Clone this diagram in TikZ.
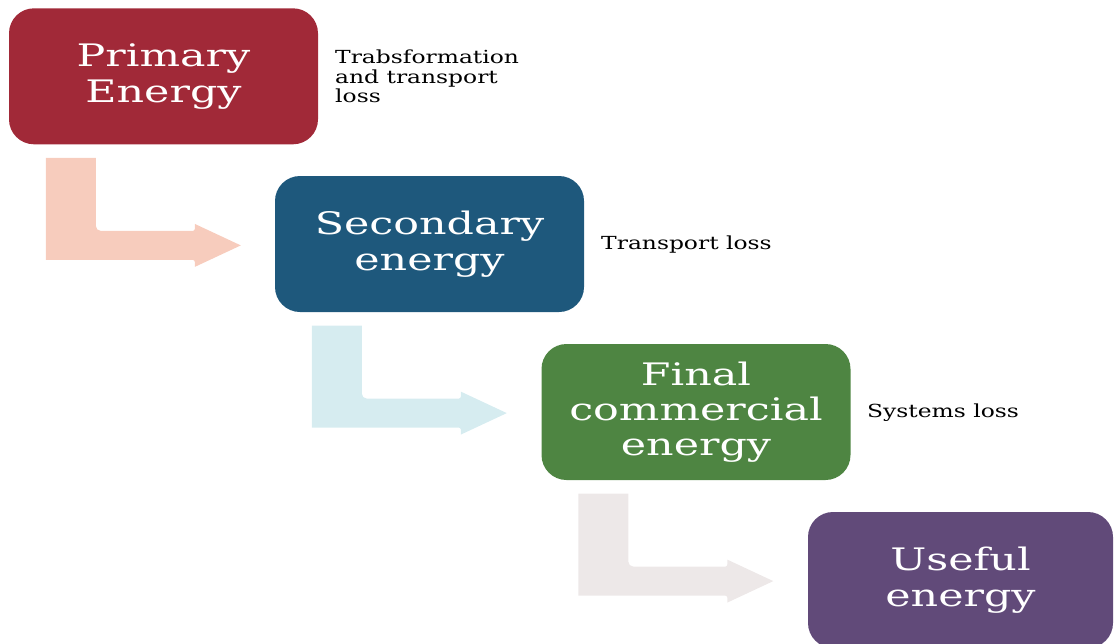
\documentclass[tikz,border=0pt]{standalone}
\usepackage{fontspec}
\usetikzlibrary{calc}
\newfontfamily\boxfont[FakeStretch=1.38]{DejaVu Serif}
\newfontfamily\lblfont[FakeStretch=1.3]{DejaVu Serif}
\definecolor{cred}{RGB}{161,41,56}
\definecolor{cblue}{RGB}{30,88,124}
\definecolor{cgreen}{RGB}{78,133,66}
\definecolor{cpurple}{RGB}{97,74,121}
\definecolor{apeach}{RGB}{247,204,189}
\definecolor{acyan}{RGB}{214,236,240}
\definecolor{agrey}{RGB}{237,232,232}
\tikzset{
  energybox/.style={rounded corners=25pt, minimum width=309pt, minimum height=136pt,
    inner sep=0pt, text=white, align=center,
    font=\boxfont\fontsize{31}{36}\selectfont},
  losslabel/.style={inner sep=0pt, align=left, anchor=north west, text=black,
    font=\lblfont\fontsize{18}{19.4}\selectfont},
}
\newcommand{\bentarrow}[2]{%
  \fill[#2] (#1) -- ++(50,0) [rounded corners=5pt] -- ++(0,73) [rounded corners=2pt] -- ++(99,0)
    [sharp corners] -- ++(0,-7) -- ++(46,21.5) -- ++(-46,21.5) [rounded corners=2pt] -- ++(0,-7)
    [sharp corners] -- ++(-149,0) -- cycle;}
\begin{document}
\begin{tikzpicture}[x=1pt,y=-1pt]
\useasboundingbox (0,0) rectangle (1114,643);
\node[energybox, fill=cred] (b1) at (163.5,76.3) {Primary\\Energy};
\node[energybox, fill=cblue] (b2) at (429.5,244) {Secondary\\energy};
\node[energybox, fill=cgreen, font=\boxfont\fontsize{31}{35}\selectfont] (b3) at (696,412) {Final\\commercial\\energy};
\node[energybox, fill=cpurple, minimum width=305pt] (b4) at (960.5,580) {Useful\\energy};
\coordinate (a1) at ($(b1.south west)+(37,13.4)$);
\coordinate (a2) at ($(b2.south west)+(37,13.4)$);
\coordinate (a3) at ($(b3.south west)+(37,13.4)$);
\bentarrow{a1}{apeach}
\bentarrow{a2}{acyan}
\bentarrow{a3}{agrey}
\node[losslabel] (l1) at (335,50) {Trabsformation\\and transport\\loss};
\node[losslabel] (l2) at (601,236) {Transport loss};
\node[losslabel] (l3) at (867,404) {Systems loss};
\end{tikzpicture}
\end{document}
